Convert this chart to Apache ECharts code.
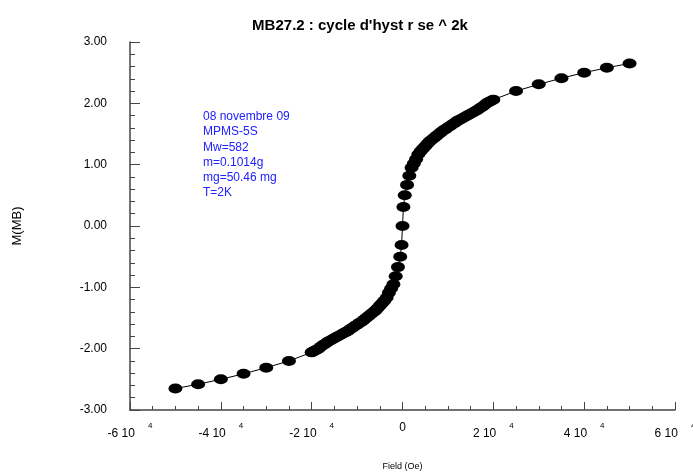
<!DOCTYPE html>
<html>
<head>
<meta charset="utf-8">
<script src="https://cdn.jsdelivr.net/npm/echarts@6/dist/echarts.min.js"></script>
<style>
  html, body { margin: 0; padding: 0; background: #fff; }
  #chart { width: 693px; height: 473px; }
</style>
</head>
<body>
<div id="chart"></div>
<script>
// champ (Oe) et aimantation (MB), balayage -5e4 -> 5e4
const fieldOe = [
  -50000, -45000, -40000, -35000, -30000, -25000,
  -20000, -19500, -19000, -18500, -18000, -17500, -17000, -16500, -16000, -15500,
  -15000, -14500, -14000, -13500, -13000, -12500, -12000, -11500, -11000, -10500,
  -10000, -9500, -9000, -8500, -8000, -7500, -7000, -6500, -6000, -5500,
  -5000, -4500, -4000, -3500,
  -3000, -2500, -2000, -1500, -1000, -500, -200, 0,
  200, 500, 1000, 1500, 2000, 2500, 3000,
  3500, 4000, 4500, 5000, 5500, 6000, 6500, 7000, 7500, 8000,
  8500, 9000, 9500, 10000, 10500, 11000, 11500, 12000, 12500, 13000,
  13500, 14000, 14500, 15000, 15500, 16000, 16500, 17000, 17500, 18000,
  18500, 19000, 19500, 20000,
  25000, 30000, 35000, 40000, 45000, 50000
]
const momentMB = [
  -2.65, -2.58, -2.50, -2.41, -2.31, -2.20,
  -2.06, -2.04, -2.02, -2.00, -1.97, -1.94, -1.92, -1.89, -1.87, -1.85,
  -1.83, -1.81, -1.79, -1.77, -1.75, -1.73, -1.71, -1.68, -1.66, -1.63,
  -1.61, -1.58, -1.56, -1.53, -1.50, -1.47, -1.44, -1.41, -1.38, -1.34,
  -1.30, -1.26, -1.22, -1.17,
  -1.09, -1.02, -0.95, -0.82, -0.67, -0.50, -0.31, 0.00,
  0.31, 0.50, 0.67, 0.82, 0.95, 1.02, 1.09,
  1.17, 1.22, 1.26, 1.30, 1.34, 1.38, 1.41, 1.44, 1.47, 1.50,
  1.53, 1.56, 1.58, 1.61, 1.63, 1.66, 1.68, 1.71, 1.73, 1.75,
  1.77, 1.79, 1.81, 1.83, 1.85, 1.87, 1.89, 1.92, 1.94, 1.97,
  2.00, 2.02, 2.04, 2.06,
  2.20, 2.31, 2.41, 2.50, 2.58, 2.65
]

const infoLines = [
  '08 novembre 09',
  'MPMS-5S',
  'Mw=582',
  'm=0.1014g',
  'mg=50.46 mg',
  'T=2K'
]

const FONT = '"Liberation Sans", Arial, sans-serif'
const axisColor = '#444'

const chart = echarts.init(document.getElementById('chart'))

function xLabel(v) {
  if (v === 0) return '0'
  return '{b|' + (v / 10000) + ' 10}{s|4}'
}

chart.setOption({
  animation: false,
  title: {
    text: "MB27.2 : cycle d'hyst r se ^ 2k",
    left: 355,
    textAlign: 'center',
    top: 13,
    textStyle: { fontFamily: FONT, fontSize: 15, fontWeight: 'bold', color: '#000' }
  },
  grid: { left: 130, right: 18, top: 42, bottom: 63, outerBoundsMode: 'none' },
  xAxis: {
    type: 'value',
    min: -60000,
    max: 60000,
    interval: 20000,
    name: 'Field (Oe)',
    nameLocation: 'middle',
    nameGap: 52,
    nameTextStyle: { fontFamily: FONT, fontSize: 9, color: '#000' },
    axisLine: { onZero: false, lineStyle: { color: axisColor, width: 1.5 } },
    axisTick: { inside: true, length: 8, lineStyle: { color: axisColor } },
    minorTick: { show: true, splitNumber: 4, length: 4, lineStyle: { color: axisColor } },
    splitLine: { show: false },
    axisLabel: {
      margin: 12,
      formatter: xLabel,
      fontFamily: FONT,
      fontSize: 12,
      color: '#000',
      rich: {
        b: { fontFamily: FONT, fontSize: 12, color: '#000' },
        s: { fontFamily: FONT, fontSize: 8, color: '#000', padding: [0, 0, 15, 13] }
      }
    }
  },
  yAxis: {
    type: 'value',
    min: -3,
    max: 3,
    interval: 1,
    name: 'M(MB)',
    nameLocation: 'middle',
    nameGap: 106,
    nameTextStyle: { fontFamily: FONT, fontSize: 13, color: '#000' },
    axisLine: { show: true, onZero: false, lineStyle: { color: axisColor, width: 1.5 } },
    axisTick: { inside: true, length: 10, lineStyle: { color: axisColor } },
    minorTick: { show: true, splitNumber: 5, length: 5, lineStyle: { color: axisColor } },
    splitLine: { show: false },
    axisLabel: {
      margin: 23,
      formatter: v => v.toFixed(2),
      fontFamily: FONT,
      fontSize: 12,
      color: '#000'
    }
  },
  graphic: [{
    type: 'text',
    left: 203,
    top: 109,
    style: {
      text: infoLines.join('\n'),
      font: '12px ' + FONT,
      lineHeight: 15.3,
      fill: '#2020ff'
    }
  }],
  series: [{
    type: 'line',
    data: fieldOe.map((h, i) => [h, momentMB[i]]),
    symbol: 'circle',
    symbolSize: [14, 10],
    itemStyle: { color: '#000' },
    lineStyle: { color: '#000', width: 1 }
  }]
})
</script>
</body>
</html>
